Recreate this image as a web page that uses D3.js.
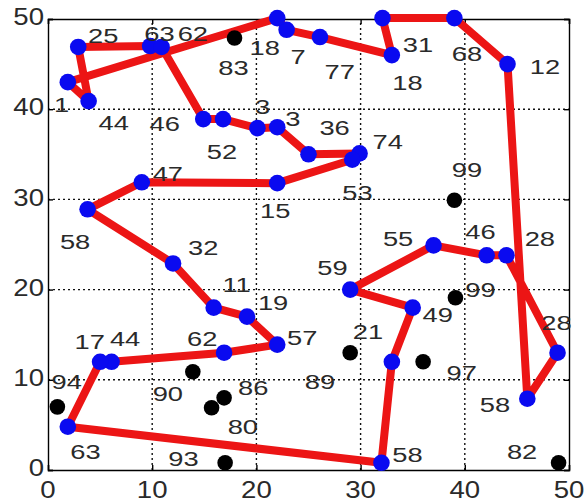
<!DOCTYPE html>
<html>
<head>
<meta charset="utf-8">
<script src="https://cdn.jsdelivr.net/npm/d3@7/dist/d3.min.js"></script>
<style>
  html, body { margin: 0; padding: 0; background: #fff; }
  svg { display: block; }
</style>
</head>
<body>
<svg id="chart" width="584" height="502"></svg>
<script>
// Route through the visited customers (closed tour), in visiting order
const routeX = [1.9, 3.9, 2.9, 9.8, 10.9, 14.9, 16.8, 20.1, 22.0, 25.0, 29.9, 29.2, 22.0, 9.0, 3.8,
                12.0, 15.9, 19.1, 22.0, 16.9, 6.1, 5.0, 1.9, 32.0, 33.0, 35.0, 29.0, 37.0, 42.1, 44.0,
                48.9, 46.0, 44.1, 39.0, 32.1, 33.0, 26.1, 22.9, 22.0];
const routeY = [43.0, 40.9, 46.9, 47.0, 46.9, 38.9, 38.9, 37.9, 38.0, 35.0, 35.1, 34.4, 31.8, 31.9, 28.9,
                22.9, 18.0, 17.0, 13.9, 13.0, 12.0, 12.0, 4.8, 0.8, 12.0, 18.0, 20.0, 24.9, 23.8, 23.8,
                13.0, 7.9, 45.0, 50.1, 50.1, 46.0, 48.0, 48.8, 50.1];

// Customers left out of the tour
const otherX = [17.9, 39.0, 39.1, 13.9, 0.9, 15.7, 16.9, 17.0, 29.0, 36.0, 49.0];
const otherY = [47.9, 29.9, 19.1, 10.9, 7.0, 6.9, 8.0, 0.8, 13.0, 12.0, 0.8];

// Demand labels and where they sit
const labelText = ["25", "63", "62", "18", "83", "7", "77", "31", "18", "68", "12", "1", "44", "46", "52",
                   "3", "3", "36", "74", "53", "99", "47", "15", "58", "32", "55", "46", "28", "59", "99",
                   "11", "19", "49", "28", "17", "44", "62", "57", "21", "94", "90", "86", "89", "97", "80",
                   "58", "63", "93", "58", "82"];
const labelX = [5.3, 10.7, 13.9, 20.8, 17.8, 24.0, 28.0, 35.5, 34.5, 40.2, 47.7, 1.3, 6.3, 11.2, 16.7,
                20.6, 23.5, 27.5, 32.6, 29.7, 40.2, 11.5, 21.8, 2.6, 14.9, 33.6, 41.5, 47.2, 27.3, 41.5,
                18.1, 21.6, 37.4, 48.8, 4.0, 7.4, 14.8, 24.4, 30.7, 1.8, 11.5, 19.7, 26.1, 39.7, 18.7,
                42.9, 3.6, 13.0, 34.5, 45.5];
const labelY = [48.2, 48.4, 48.4, 46.8, 44.6, 45.8, 44.2, 47.1, 42.9, 46.2, 44.7, 40.5, 38.5, 38.4, 35.3,
                40.3, 39.0, 37.9, 36.4, 30.7, 33.3, 32.9, 28.8, 25.3, 24.6, 25.7, 26.4, 25.7, 22.4, 20.0,
                20.5, 18.6, 17.2, 16.3, 14.2, 14.6, 14.6, 14.7, 15.3, 9.8, 8.5, 9.1, 9.8, 10.8, 4.8,
                7.2, 2.0, 1.3, 1.7, 2.0];

const tickValues = [0, 10, 20, 30, 40, 50];

const svg = d3.select("#chart");
const margin = { left: 48, top: 19, right: 15, bottom: 32 };
const W = 584, H = 502;
const x = d3.scaleLinear().domain([0, 50]).range([margin.left, W - margin.right]);
const y = d3.scaleLinear().domain([0, 50]).range([H - margin.bottom, margin.top]);

const fontFam = "'Liberation Sans', Arial, Helvetica, sans-serif";

// grid
const grid = svg.append("g");
grid.selectAll("line.gx").data(tickValues.slice(1, -1)).join("line")
  .attr("x1", d => x(d)).attr("x2", d => x(d))
  .attr("y1", y(0)).attr("y2", y(50))
  .attr("stroke", "#111").attr("stroke-width", 1.4).attr("stroke-dasharray", "2,3");
grid.selectAll("line.gy").data(tickValues.slice(1, -1)).join("line")
  .attr("y1", d => y(d)).attr("y2", d => y(d))
  .attr("x1", x(0)).attr("x2", x(50))
  .attr("stroke", "#111").attr("stroke-width", 1.4).attr("stroke-dasharray", "2,3");

// axes box with inward ticks
const styleAxis = g => g.selectAll("line, path").attr("stroke", "#000").attr("stroke-width", 1.4);
svg.append("g").attr("transform", `translate(0,${y(0)})`)
  .call(d3.axisBottom(x).tickValues(tickValues).tickSize(-5).tickFormat("")).call(styleAxis);
svg.append("g").attr("transform", `translate(${x(0)},0)`)
  .call(d3.axisLeft(y).tickValues(tickValues).tickSize(-5).tickFormat("")).call(styleAxis);
svg.append("g").attr("transform", `translate(0,${y(50)})`)
  .call(d3.axisTop(x).tickValues(tickValues).tickSize(-5).tickFormat("")).call(styleAxis);
svg.append("g").attr("transform", `translate(${x(50)},0)`)
  .call(d3.axisRight(y).tickValues(tickValues).tickSize(-5).tickFormat("")).call(styleAxis);

// tick labels (wide digits)
svg.append("g").selectAll("text").data(tickValues).join("text")
  .attr("transform", d => `translate(${x(d)},${y(0) + 20}) scale(1.2,1)`)
  .attr("text-anchor", "middle").attr("dominant-baseline", "central")
  .attr("font-family", fontFam).attr("font-size", 23).attr("fill", "#2a2a2a")
  .text(d => d);
svg.append("g").selectAll("text").data(tickValues).join("text")
  .attr("transform", d => `translate(${x(0) - 4},${y(d) - 2}) scale(1.2,1)`)
  .attr("text-anchor", "end").attr("dominant-baseline", "central")
  .attr("font-family", fontFam).attr("font-size", 23).attr("fill", "#2a2a2a")
  .text(d => d);

// tour
const route = routeX.map((v, i) => [v, routeY[i]]);
svg.append("path")
  .datum(route)
  .attr("d", d3.line().x(d => x(d[0])).y(d => y(d[1])).curve(d3.curveLinearClosed))
  .attr("fill", "none").attr("stroke", "#ec1515").attr("stroke-width", 8)
  .attr("stroke-linejoin", "round").attr("stroke-linecap", "round");

// visited customers
svg.append("g").selectAll("circle").data(route).join("circle")
  .attr("cx", d => x(d[0])).attr("cy", d => y(d[1])).attr("r", 8.3)
  .attr("fill", "#0a0af0");

// unvisited customers
svg.append("g").selectAll("circle").data(otherX.map((v, i) => [v, otherY[i]])).join("circle")
  .attr("cx", d => x(d[0])).attr("cy", d => y(d[1])).attr("r", 7.8)
  .attr("fill", "#000");

// demand labels
svg.append("g").selectAll("text").data(labelText.map((t, i) => ({ t, lx: labelX[i], ly: labelY[i] }))).join("text")
  .attr("transform", d => `translate(${x(d.lx)},${y(d.ly)}) scale(1.3,1)`)
  .attr("text-anchor", "middle").attr("dominant-baseline", "central")
  .attr("font-family", fontFam).attr("font-size", 21).attr("fill", "#2a2a2a")
  .text(d => d.t);
</script>
</body>
</html>
